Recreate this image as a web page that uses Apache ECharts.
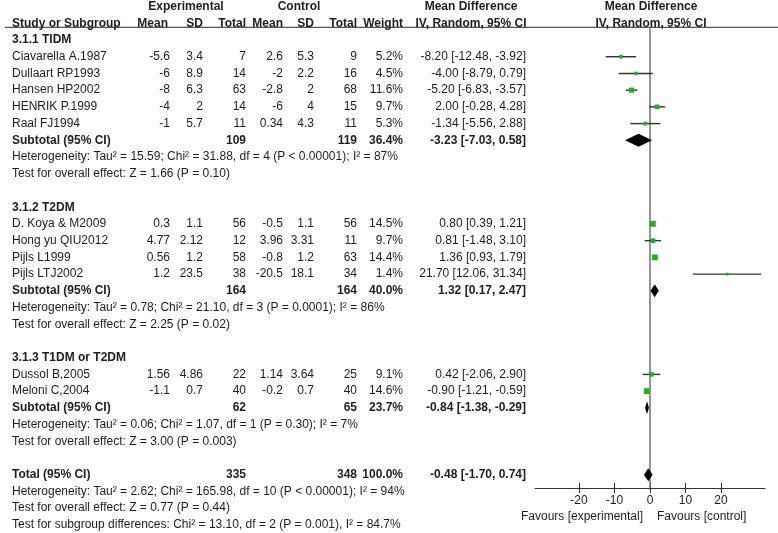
<!DOCTYPE html>
<html><head><meta charset="utf-8">
<script src="https://cdn.jsdelivr.net/npm/echarts@6/dist/echarts.min.js"></script>
<style>html,body{margin:0;padding:0;background:#fff}#c{width:778px;height:533px}</style>
</head><body><div id="c"></div>
<script>
// ---- data ----
const studyNames = ['Ciavarella A.1987','Dullaart RP1993','Hansen HP2002','HENRIK P.1999','Raal FJ1994',
  'D. Koya & M2009','Hong yu QIU2012','Pijls L1999','Pijls LTJ2002','Dussol B,2005','Meloni C,2004'];
const studyGroup = [0,0,0,0,0,1,1,1,1,2,2];
const expMean = [-5.6,-6,-8,-4,-1,0.3,4.77,0.56,1.2,1.56,-1.1];
const expSD = [3.4,8.9,6.3,2,5.7,1.1,2.12,1.2,23.5,4.86,0.7];
const expN = [7,14,63,14,11,56,12,58,38,22,40];
const ctlMean = [2.6,-2,-2.8,-6,0.34,-0.5,3.96,-0.8,-20.5,1.14,-0.2];
const ctlSD = [5.3,2.2,2,4,4.3,1.1,3.31,1.2,18.1,3.64,0.7];
const ctlN = [9,16,68,15,11,56,11,63,34,25,40];
const weight = [5.2,4.5,11.6,9.7,5.3,14.5,9.7,14.4,1.4,9.1,14.6];
const md = [-8.20,-4.00,-5.20,2.00,-1.34,0.80,0.81,1.36,21.70,0.42,-0.90];
const ciLow = [-12.48,-8.79,-6.83,-0.28,-5.56,0.39,-1.48,0.93,12.06,-2.06,-1.21];
const ciHigh = [-3.92,0.79,-3.57,4.28,2.88,1.21,3.10,1.79,31.34,2.90,-0.59];

const groupNames = ['3.1.1 TIDM','3.1.2 T2DM','3.1.3 T1DM or T2DM'];
const groupExpN = [109,164,62];
const groupCtlN = [119,164,65];
const groupWeight = [36.4,40.0,23.7];
const groupMd = [-3.23,1.32,-0.84];
const groupLow = [-7.03,0.17,-1.38];
const groupHigh = [0.58,2.47,-0.29];
const groupHet = [
  'Heterogeneity: Tau\u00b2 = 15.59; Chi\u00b2 = 31.88, df = 4 (P < 0.00001); I\u00b2 = 87%',
  'Heterogeneity: Tau\u00b2 = 0.78; Chi\u00b2 = 21.10, df = 3 (P = 0.0001); I\u00b2 = 86%',
  'Heterogeneity: Tau\u00b2 = 0.06; Chi\u00b2 = 1.07, df = 1 (P = 0.30); I\u00b2 = 7%'];
const groupTest = ['Test for overall effect: Z = 1.66 (P = 0.10)',
  'Test for overall effect: Z = 2.25 (P = 0.02)',
  'Test for overall effect: Z = 3.00 (P = 0.003)'];

const totalExpN = 335, totalCtlN = 348, totalWeight = 100.0;
const totalMd = -0.48, totalLow = -1.70, totalHigh = 0.74;
const totalLines = ['Heterogeneity: Tau\u00b2 = 2.62; Chi\u00b2 = 165.98, df = 10 (P < 0.00001); I\u00b2 = 94%',
  'Test for overall effect: Z = 0.77 (P = 0.44)',
  'Test for subgroup differences: Chi\u00b2 = 13.10, df = 2 (P = 0.001), I\u00b2 = 84.7%'];

const axisTicks = [-20,-10,0,10,20];
const favoursLeft = 'Favours [experimental]';
const favoursRight = 'Favours [control]';

// ---- layout ----
const ROW0 = 6.56, ROWH = 16.72;          // px of row 0, px per row
const AXIS_Y = 488;
const yMin = -ROW0 / ROWH;
const yMax = (AXIS_Y - ROW0) / ROWH;
const COLS = {
  study:{x:12,a:'left'}, em:{x:170,a:'right'}, esd:{x:203,a:'right'}, en:{x:246,a:'right'},
  cm:{x:283,a:'right'}, csd:{x:314,a:'right'}, cn:{x:357,a:'right'}, w:{x:403,a:'right'},
  ci:{x:526,a:'right'}, hExp:{x:186,a:'center'}, hCtl:{x:299,a:'center'}, hMd:{x:471,a:'center'},
  hMd2:{x:651,a:'center'}, hMean:{x:168,a:'right'}
};
const fmtCI = (m,l,h) => m.toFixed(2)+' ['+l.toFixed(2)+', '+h.toFixed(2)+']';

const cells = [];
const add = (row,col,text,bold) => cells.push({row,col,text:String(text),bold:!!bold});
add(0,'hExp','Experimental',1); add(0,'hCtl','Control',1); add(0,'hMd','Mean Difference',1); add(0,'hMd2','Mean Difference',1);
add(1,'study','Study or Subgroup',1); add(1,'hMean','Mean',1); add(1,'esd','SD',1); add(1,'en','Total',1);
add(1,'cm','Mean',1); add(1,'csd','SD',1); add(1,'cn','Total',1); add(1,'w','Weight',1);
add(1,'hMd','IV, Random, 95% CI',1); add(1,'hMd2','IV, Random, 95% CI',1);

const studyMarks = [], diamonds = [];
let r = 2;
groupNames.forEach((g,gi) => {
  add(r,'study',g,1); r++;
  studyNames.forEach((s,i) => {
    if (studyGroup[i] !== gi) return;
    add(r,'study',s); add(r,'em',expMean[i]); add(r,'esd',expSD[i]); add(r,'en',expN[i]);
    add(r,'cm',ctlMean[i]); add(r,'csd',ctlSD[i]); add(r,'cn',ctlN[i]);
    add(r,'w',weight[i].toFixed(1)+'%'); add(r,'ci',fmtCI(md[i],ciLow[i],ciHigh[i]));
    studyMarks.push([md[i],r,ciLow[i],ciHigh[i],weight[i]]);
    r++;
  });
  add(r,'study','Subtotal (95% CI)',1); add(r,'en',groupExpN[gi],1); add(r,'cn',groupCtlN[gi],1);
  add(r,'w',groupWeight[gi].toFixed(1)+'%',1); add(r,'ci',fmtCI(groupMd[gi],groupLow[gi],groupHigh[gi]),1);
  diamonds.push([groupMd[gi],r,groupLow[gi],groupHigh[gi]]);
  r++;
  add(r,'study',groupHet[gi]); r++;
  add(r,'study',groupTest[gi]); r++;
  r++;
});
add(r,'study','Total (95% CI)',1); add(r,'en',totalExpN,1); add(r,'cn',totalCtlN,1);
add(r,'w',totalWeight.toFixed(1)+'%',1); add(r,'ci',fmtCI(totalMd,totalLow,totalHigh),1);
diamonds.push([totalMd,r,totalLow,totalHigh]);
r++;
totalLines.forEach(t => { add(r,'study',t); r++; });

const FONT = '"Liberation Sans", Arial, sans-serif';
const TXT = '#1e1e1e';

const chart = echarts.init(document.getElementById('c'), null, {renderer:'canvas'});
chart.setOption({
  animation:false,
  backgroundColor:'#fff',
  grid:[{left:535, width:230, top:0, height:AXIS_Y, containLabel:false}],
  xAxis:[
    {type:'value', gridIndex:0, min:-32.4, max:32.4, position:'bottom',
     axisLine:{show:true,onZero:false,lineStyle:{color:'#333',width:1}},
     axisTick:{show:true,inside:false,length:5,customValues:axisTicks,lineStyle:{color:'#333'}},
     axisLabel:{show:true,customValues:axisTicks,margin:7,fontSize:12,fontFamily:FONT,color:TXT},
     splitLine:{show:false}},
    {type:'value', gridIndex:0, min:-32.4, max:32.4, position:'bottom', offset:0,
     axisLine:{show:false,onZero:false},
     axisTick:{show:true,inside:true,length:5,customValues:axisTicks,lineStyle:{color:'#333'}},
     axisLabel:{show:false}, splitLine:{show:false}}
  ],
  yAxis:[{type:'value', gridIndex:0, min:yMin, max:yMax, inverse:true, show:false}],
  series:[
    { // zero line + header rule
      type:'custom', coordinateSystem:'cartesian2d', silent:true, clip:false,
      data:[[0,1.25]],
      renderItem:(p,api) => {
        const top = api.coord([0,1.25]);
        const bot = api.coord([0,yMax]);
        return {type:'group', children:[
          {type:'line', shape:{x1:5,y1:top[1],x2:778,y2:top[1]}, style:{stroke:'#555',lineWidth:1.2}},
          {type:'line', shape:{x1:top[0],y1:top[1],x2:bot[0],y2:bot[1]}, style:{stroke:'#7a7a7a',lineWidth:1.6}}
        ]};
      }
    },
    { // study CIs and squares
      type:'custom', coordinateSystem:'cartesian2d', silent:true, clip:false,
      data:studyMarks,
      renderItem:(p,api) => {
        const m = api.coord([api.value(0),api.value(1)]);
        const l = api.coord([api.value(2),api.value(1)]);
        const h = api.coord([api.value(3),api.value(1)]);
        const s = 2.5 + api.value(4)*0.23;
        return {type:'group', children:[
          {type:'line', shape:{x1:l[0],y1:l[1],x2:h[0],y2:h[1]}, style:{stroke:'#333',lineWidth:1.4}},
          {type:'rect', shape:{x:m[0]-s/2,y:m[1]-s/2,width:s,height:s}, style:{fill:'#22b022'}}
        ]};
      }
    },
    { // diamonds
      type:'custom', coordinateSystem:'cartesian2d', silent:true, clip:false,
      data:diamonds,
      renderItem:(p,api) => {
        const m = api.coord([api.value(0),api.value(1)]);
        const l = api.coord([api.value(2),api.value(1)]);
        const h = api.coord([api.value(3),api.value(1)]);
        const hh = 6.5;
        return {type:'polygon', shape:{points:[[l[0],l[1]],[m[0],m[1]-hh],[h[0],h[1]],[m[0],m[1]+hh]]},
          style:{fill:'#000'}};
      }
    },
    { // table text
      type:'custom', coordinateSystem:'cartesian2d', silent:true, clip:false,
      data:cells.map(c => [0,c.row]),
      renderItem:(p,api) => {
        const c = cells[p.dataIndex];
        const y = api.coord([0,c.row])[1];
        const col = COLS[c.col];
        return {type:'text', x:col.x, y:y, style:{text:c.text, textAlign:col.a, textVerticalAlign:'middle',
          font:(c.bold?'bold ':'')+'12px '+FONT, fill:TXT}};
      }
    },
    { // favours labels
      type:'custom', coordinateSystem:'cartesian2d', silent:true, clip:false,
      data:[[0,yMax]],
      renderItem:(p,api) => {
        const z = api.coord([0,yMax]);
        const y = z[1] + 29;
        return {type:'group', children:[
          {type:'text', x:z[0]-7, y:y, style:{text:favoursLeft,textAlign:'right',textVerticalAlign:'middle',font:'12px '+FONT,fill:TXT}},
          {type:'text', x:z[0]+7, y:y, style:{text:favoursRight,textAlign:'left',textVerticalAlign:'middle',font:'12px '+FONT,fill:TXT}}
        ]};
      }
    }
  ]
});
</script>
</body></html>
